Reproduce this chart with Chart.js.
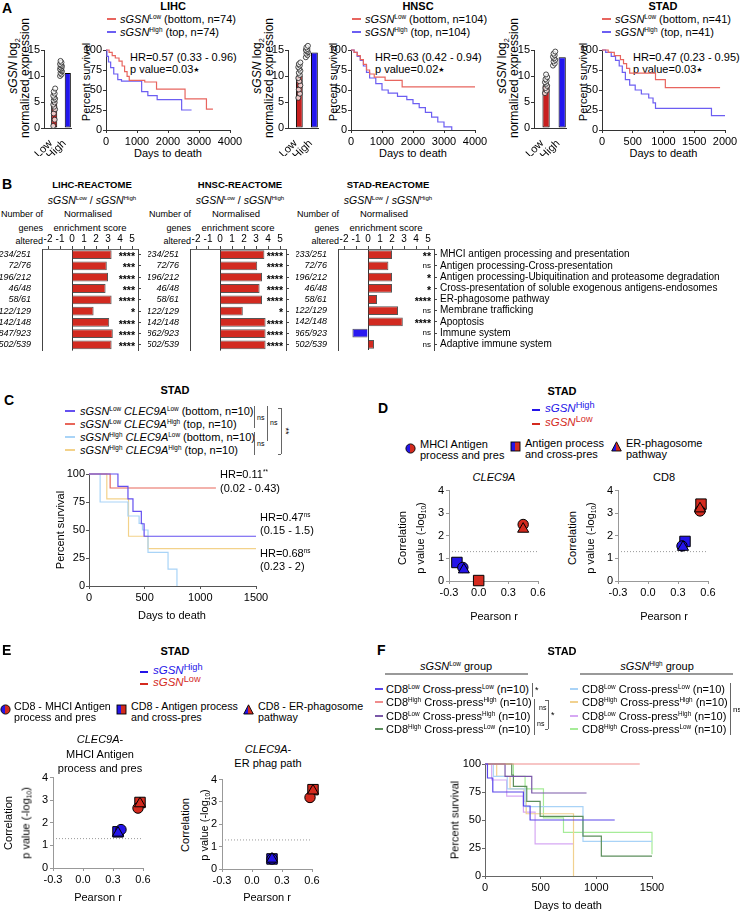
<!DOCTYPE html>
<html>
<head>
<meta charset="utf-8">
<script src="https://cdn.jsdelivr.net/npm/chart.js@4.4.1/dist/chart.umd.min.js"></script>
<style>
html, body { margin: 0; padding: 0; background: #fff; }
body { position: relative; width: 740px; height: 912px; overflow: hidden; font-family: "Liberation Sans", Arial, sans-serif; color: #000; }
canvas { position: absolute; }
.t { position: absolute; white-space: nowrap; line-height: 1; font-size: 11px; }
sup { font-size: 0.58em; vertical-align: 0; position: relative; top: -0.6em; font-style: normal; }
sup.big { font-size: 0.8em; top: -0.45em; }
sub { font-size: 0.6em; vertical-align: 0; position: relative; top: 0.35em; }
.st { font-size: 7px; position: relative; top: -1px; font-family: "DejaVu Sans"; }
.ln { position: absolute; }
</style>
</head>
<body>
<script>
// ---------- A: expression + survival ----------
const aNames = ['LIHC', 'HNSC', 'STAD'];
const aN = [74, 104, 41];
const aHR = ['0.57 (0.33 - 0.96)', '0.63 (0.42 - 0.94)', '0.47 (0.23 - 0.95)'];
const aP = ['0.03', '0.02', '0.03'];
const grpLabels = ['Low', 'High'];
const exprTicks = [0, 5, 10, 15];
const lihcMean = [5.2, 10.6];
const hnscMean = [10.1, 14.5];
const stadMean = [8.2, 13.6];
const lihcLowPts = [0.4, 1.6, 2.8, 3.6, 4.1, 4.5, 4.9, 5.3, 5.6, 5.9, 6.2, 6.6, 7.0, 7.6];
const lihcHighPts = [10.0, 10.3, 10.6, 10.9, 11.1, 11.3, 11.5, 11.7, 11.9, 12.1, 12.3, 12.6, 12.9];
const hnscLowPts = [5.8, 6.6, 7.4, 8.2, 9.0, 9.6, 10.2, 10.6, 11.0, 11.4, 11.7, 12.0, 12.3, 12.6];
const hnscHighPts = [13.6, 14.0, 14.3, 14.6, 14.8, 15.0, 15.2, 15.5, 15.8, 16.2];
const stadLowPts = [6.7, 7.2, 7.7, 8.1, 8.5, 8.8, 9.1, 9.4, 9.8, 10.3];
const stadHighPts = [12.0, 12.4, 12.8, 13.1, 13.4, 13.7, 14.0, 14.3, 14.7];

const pctTicks = [0, 25, 50, 75, 100];
const kmTicks4k = [0, 1000, 2000, 3000, 4000];
const kmTicks2k = [0, 500, 1000, 1500, 2000];
const kmTicks1500 = [0, 500, 1000, 1500];

const lihcLowT = [0, 100, 200, 300, 420, 520, 600, 680, 750, 1250, 1630, 2550, 3240, 3450];
const lihcLowS = [100, 97, 93, 90, 86, 80, 73, 67, 62, 60, 51, 39, 26, 26];
const lihcHighT = [0, 30, 80, 150, 250, 380, 500, 1150, 1350, 1650, 2440, 2760];
const lihcHighS = [100, 92, 85, 78, 70, 63, 61, 48, 43, 38, 25, 25];
const hnscLowT = [0, 100, 200, 300, 400, 500, 600, 750, 1100, 1650, 4000];
const hnscLowS = [100, 97, 93, 88, 82, 75, 70, 66, 62, 54, 54];
const hnscHighT = [0, 100, 200, 300, 400, 500, 600, 800, 1000, 1200, 1500, 1800, 2000, 2200, 2400, 2600, 2800, 3000, 3250];
const hnscHighS = [100, 97, 92, 87, 80, 72, 65, 58, 50, 46, 42, 38, 33, 28, 22, 16, 10, 4, 0];
const stadLowT = [0, 100, 200, 300, 350, 400, 450, 870, 1030, 1920];
const stadLowS = [100, 97, 93, 88, 83, 77, 71, 63, 53, 53];
const stadHighT = [0, 60, 150, 220, 280, 330, 380, 450, 540, 640, 760, 830, 870, 1780, 2000];
const stadHighS = [100, 97, 92, 87, 80, 72, 63, 56, 50, 45, 40, 34, 27, 18, 18];

// ---------- B: reactome NES ----------
const pathways = ['MHCI antigen processing and presentation', 'Antigen processing-Cross-presentation',
  'Antigen processing-Ubiquitination and proteasome degradation', 'Cross-presentation of soluble exogenous antigens-endosomes',
  'ER-phagosome pathway', 'Membrane trafficking', 'Apoptosis', 'Immune system', 'Adaptive immune system'];
const bTicks = [-2, -1, 0, 1, 2, 3, 4, 5];
const lihcGenes = ['234/251', '72/76', '196/212', '46/48', '58/61', '122/129', '142/148', '847/923', '502/539'];
const lihcNes = [3.3, 2.9, 3.0, 2.8, 3.3, 1.8, 3.1, 3.4, 3.3];
const lihcSig = ['****', '***', '****', '***', '****', '*', '****', '****', '****'];
const hnscGenes = ['234/251', '72/76', '196/212', '46/48', '58/61', '122/129', '142/148', '862/923', '502/539'];
const hnscNes = [3.7, 3.1, 3.5, 3.3, 3.5, 1.9, 3.8, 3.8, 3.8];
const hnscSig = ['****', '****', '****', '****', '****', '*', '****', '****', '****'];
const stadGenes = ['233/251', '72/76', '196/212', '46/48', '58/61', '122/129', '142/148', '865/923', '502/539'];
const stadNes = [2.0, 1.7, 2.0, 2.0, 0.75, 2.5, 2.9, -1.3, 0.5];
const stadSig = ['**', 'ns', '*', '*', '****', 'ns', '****', 'ns', 'ns'];

// ---------- C: STAD sGSN x CLEC9A ----------
const cLegend = [
  '<i>sGSN</i><sup>Low</sup> <i>CLEC9A</i><sup>Low</sup> (bottom, n=10)',
  '<i>sGSN</i><sup>Low</sup> <i>CLEC9A</i><sup>High</sup> (top, n=10)',
  '<i>sGSN</i><sup>High</sup> <i>CLEC9A</i><sup>Low</sup> (bottom, n=10)',
  '<i>sGSN</i><sup>High</sup> <i>CLEC9A</i><sup>High</sup> (top, n=10)'];
const cLowLowT = [0, 260, 350, 395, 470, 495, 1500];
const cLowLowS = [100, 88.9, 77.8, 66.7, 55.6, 44.4, 44.4];
const cLowHighT = [0, 190, 1140];
const cLowHighS = [100, 87.5, 87.5];
const cHighLowT = [0, 100, 350, 450, 480, 530, 710, 790];
const cHighLowS = [100, 75, 62.5, 56, 50, 30, 15, 0];
const cHighHighT = [0, 160, 355, 530, 1500];
const cHighHighS = [100, 77.8, 44.4, 33.3, 33.3];
const cHR = ['HR=0.11<sup>**</sup>', '(0.02 - 0.43)', 'HR=0.47<sup>ns</sup>', '(0.15 - 1.5)', 'HR=0.68<sup>ns</sup>', '(0.23 - 2)'];

// ---------- D / E: correlations (order: MHCI, cross-pres, ER-phagosome) ----------
const rTicks = [-0.3, 0, 0.3, 0.6];
const pTicks = [0, 1, 2, 3, 4];
const sigP = 1.3;
const dClecHighR = [-0.16, -0.22, -0.15], dClecHighP = [0.6, 0.82, 0.5];
const dClecLowR = [0.45, 0.0, 0.45], dClecLowP = [2.5, 0.02, 2.3];
const dCd8HighR = [0.34, 0.37, 0.35], dCd8HighP = [1.55, 1.75, 1.5];
const dCd8LowR = [0.52, 0.53, 0.52], dCd8LowP = [3.1, 3.4, 3.2];
const eMhcHighR = [0.38, 0.35, 0.35], eMhcHighP = [1.7, 1.6, 1.55];
const eMhcLowR = [0.55, 0.57, 0.57], eMhcLowP = [2.65, 2.9, 2.85];
const eErHighR = [0.2, 0.2, 0.2], eErHighP = [0.45, 0.45, 0.45];
const eErLowR = [0.58, 0.61, 0.61], eErLowP = [3.2, 3.55, 3.5];

// ---------- F: CD8 x cross-presentation ----------
const fLegend = [
  'CD8<sup>Low</sup> Cross-press<sup>Low</sup> (n=10)',
  'CD8<sup>High</sup> Cross-press<sup>High</sup> (n=10)',
  'CD8<sup>Low</sup> Cross-press<sup>High</sup> (n=10)',
  'CD8<sup>High</sup> Cross-press<sup>Low</sup> (n=10)'];
const fLowLLT = [0, 22, 70, 345, 405, 1165], fLowLLS = [100, 87.5, 75, 62.5, 50, 50];
const fLowHHT = [0, 1390], fLowHHS = [100, 100];
const fLowLHT = [0, 180, 420, 912], fLowLHS = [100, 88.9, 74.1, 74.1];
const fLowHLT = [0, 240, 255, 375, 495, 880, 1045, 1500], fLowHLS = [100, 90, 80, 66.7, 53.3, 35.6, 17.8, 17.8];
const fHighLLT = [0, 75, 200, 360, 880, 1500], fHighLLS = [100, 88.9, 77.8, 61.9, 30.9, 30.9];
const fHighHHT = [0, 105, 225, 350, 370, 795, 795], fHighHHS = [100, 88.9, 77.8, 66.7, 55.6, 55.6, 0];
const fHighLHT = [0, 60, 195, 345, 450, 795], fHighLHS = [100, 85.7, 71.4, 57.1, 28.6, 28.6];
const fHighHLT = [0, 255, 360, 525, 705, 1500, 1500], fHighHLS = [100, 88.9, 77.8, 51.9, 38.9, 38.9, 19.4];

// ---------- colours ----------
const kmRed = '#e8655f', kmBlue = '#6c5ef2';
const barRed = '#c81f1f', barBlue = '#2216ee';
const nesRed = '#d22a20', nesBlue = '#2a1af0';
const dRed = '#d42a1e', dBlue = '#2414e8';
const cCols = ['#6450f0', '#e8665a', '#a9d4f7', '#f3d28a'];
const fCols = ['#5a46ea', '#f08c8c', '#7a58a8', '#5d8f5d', '#a9d3f7', '#f1d18f', '#d6a8f3', '#a6ec98'];

Chart.defaults.font.family = '"Liberation Sans", Arial, sans-serif';
Chart.defaults.font.size = 11;
Chart.defaults.color = '#000';
Chart.defaults.plugins.legend.display = false;
Chart.defaults.plugins.tooltip.enabled = false;

// ---------- helpers ----------
function T(x, y, html, o) {
  o = o || {};
  const d = document.createElement('div');
  d.className = 't';
  d.innerHTML = html;
  d.style.left = x + 'px';
  d.style.top = y + 'px';
  if (o.s) d.style.fontSize = o.s + 'px';
  if (o.b) d.style.fontWeight = 'bold';
  if (o.c) d.style.color = o.c;
  const ax = o.a === 'c' ? '-50%' : o.a === 'r' ? '-100%' : '0';
  d.style.transform = o.rot ? 'translate(-50%,-50%) rotate(' + o.rot + 'deg)' : 'translate(' + ax + ',-50%)';
  document.body.appendChild(d);
}
function seg(x0, y0, x1, y1, col, w) {
  const d = document.createElement('div');
  d.className = 'ln';
  w = w || 1;
  d.style.left = Math.min(x0, x1) + 'px';
  d.style.top = (Math.min(y0, y1) - (y0 === y1 ? w / 2 : 0)) + 'px';
  d.style.width = Math.max(Math.abs(x1 - x0), w) + 'px';
  d.style.height = Math.max(Math.abs(y1 - y0), w) + 'px';
  d.style.background = col;
  document.body.appendChild(d);
}
let gid = 0;
function shape(kind, x, y) {
  const id = 'g' + (gid++);
  const body = kind === 'c' ? '<circle cx="5.5" cy="5.5" r="4.6"' :
    kind === 's' ? '<rect x="1" y="1" width="9" height="9"' : '<polygon points="5.5,0.8 10.3,10 0.7,10"';
  const d = document.createElement('div');
  d.className = 'ln';
  d.style.left = (x - 5.5) + 'px';
  d.style.top = (y - 5.5) + 'px';
  d.innerHTML = '<svg width="11" height="11"><defs><linearGradient id="' + id + '" x1="0" x2="1" y1="0" y2="0">' +
    '<stop offset="0.5" stop-color="' + dBlue + '"/><stop offset="0.5" stop-color="' + dRed + '"/></linearGradient></defs>' +
    body + ' fill="url(#' + id + ')" stroke="#000" stroke-width="0.9"/></svg>';
  document.body.appendChild(d);
}
const fit = n => s => { if (s.isHorizontal()) s.height = n; else s.width = n; };
function lin(o) {
  return {
    type: 'linear', min: o.min, max: o.max, position: o.pos,
    afterBuildTicks: s => { s.ticks = o.ticks.map(v => ({ value: v })); },
    ticks: { autoSkip: false, maxRotation: 0, padding: o.pad === undefined ? 2 : o.pad, font: { size: o.fs || 11 }, color: '#000', callback: o.fmt || (v => String(v)) },
    grid: { display: true, drawOnChartArea: false, drawTicks: true, tickLength: o.tl || 3, tickColor: o.col || '#000', color: o.col || '#000' },
    border: { display: true, color: o.col || '#000', width: 1 },
    afterFit: fit(o.size)
  };
}
function mk(area, m, cfg, pad, plugins) {
  const [x0, y0, x1, y1] = area, [l, t, r, b] = m;
  const w = x1 - x0 + l + r, h = y1 - y0 + t + b;
  const c = document.createElement('canvas');
  c.width = w; c.height = h;
  c.style.left = (x0 - l) + 'px'; c.style.top = (y0 - t) + 'px';
  c.style.width = w + 'px'; c.style.height = h + 'px';
  document.body.appendChild(c);
  cfg.options = Object.assign({ responsive: false, animation: false, devicePixelRatio: 1, events: [] }, cfg.options);
  cfg.options.layout = { padding: pad || { top: t, right: r, left: 0, bottom: 0 } };
  if (plugins) cfg.plugins = plugins;
  return new Chart(c, cfg);
}
function km(area, xTicks, curves, col) {
  const m = [28, 8, 16, 24];
  mk(area, m, {
    type: 'line',
    data: { datasets: curves.map(c => ({ data: c[0].map((t, i) => ({ x: t, y: c[1][i] })), borderColor: c[2], borderWidth: 1.2, pointRadius: 0, stepped: true, fill: false, clip: false })) },
    options: { scales: {
      x: lin({ min: 0, max: xTicks[xTicks.length - 1], ticks: xTicks, pos: 'bottom', size: m[3], col: col }),
      y: lin({ min: 0, max: 100, ticks: pctTicks, pos: 'left', size: m[0], pad: 1, col: col })
    } }
  });
}
function barA(area, means, lowPts, highPts) {
  const m = [28, 8, 4, 28];
  // small horizontal spread so overlapping points stay visible
  const jit = (arr, c) => arr.map((v, i) => ({ x: c + (((i * 3) % 5) - 2) * 0.07, y: v }));
  const pt = { type: 'scatter', xAxisID: 'xj', pointRadius: 2.5, backgroundColor: 'rgba(255,255,255,0.75)', borderColor: '#222', borderWidth: 0.8, clip: false };
  mk(area, m, {
    type: 'bar',
    data: { labels: grpLabels, datasets: [
      Object.assign({ data: jit(lowPts, 0) }, pt),
      Object.assign({ data: jit(highPts, 1) }, pt),
      { data: means, backgroundColor: [barRed, barBlue], borderColor: '#000', borderWidth: 1, borderSkipped: false, barPercentage: 0.9, categoryPercentage: 1 }
    ] },
    options: { scales: {
      x: { type: 'category', offset: true, ticks: { minRotation: 45, maxRotation: 45, autoSkip: false, padding: 1, font: { size: 11 } }, grid: { display: false }, border: { display: true, color: '#333' }, afterFit: fit(m[3]) },
      xj: { type: 'linear', min: -0.5, max: 1.5, display: false },
      y: lin({ min: 0, max: 15, ticks: exprTicks, pos: 'left', size: m[0], pad: 1, col: '#333' })
    } }
  });
}
function sigPlugin(labels) {
  return {
    id: 'sig',
    afterDatasetsDraw(chart) {
      const ctx = chart.ctx, ys = chart.scales.y, right = chart.chartArea.right;
      ctx.save();
      ctx.fillStyle = '#000'; ctx.textAlign = 'right'; ctx.textBaseline = 'middle';
      labels.forEach((s, i) => {
        const ns = s === 'ns';
        ctx.font = (ns ? '8px' : 'bold 10.5px') + ' "Liberation Sans", Arial';
        ctx.fillText(s, right - 3, ys.getPixelForValue(i) + (ns ? 0 : 2.5));
      });
      ctx.restore();
    }
  };
}
function nes(x0, genes, vals, sig, showPath) {
  const r = showPath ? 306 : 8;
  mk([x0, 249, x0 + 96, 357], [42, 18, r, 2], {
    type: 'bar',
    data: { labels: genes, datasets: [{ data: vals, backgroundColor: vals.map(v => v < 0 ? nesBlue : nesRed), borderColor: '#555', borderWidth: 1, barPercentage: 0.78, categoryPercentage: 1 }] },
    options: { indexAxis: 'y', scales: {
      x: { type: 'linear', position: 'top', min: -2.5, max: 5.5,
        afterBuildTicks: s => { s.ticks = bTicks.map(v => ({ value: v })); },
        ticks: { autoSkip: false, maxRotation: 0, padding: 1, font: { size: 10 }, color: '#000', callback: v => String(v) },
        grid: { display: true, drawOnChartArea: true, drawTicks: true, tickLength: 3, tickColor: '#444', color: c => (c.tick && c.tick.value === 0) ? '#333' : 'rgba(0,0,0,0)' },
        border: { display: true, color: '#666' }, afterFit: fit(18) },
      y: { type: 'category', position: 'left', offset: true, ticks: { autoSkip: false, font: { size: 9, style: 'italic' }, padding: 3, color: '#000' }, grid: { display: false }, border: { display: true, color: '#444' }, afterFit: fit(42) },
      y2: { type: 'category', position: 'right', labels: pathways, offset: true, ticks: { autoSkip: false, display: showPath, font: { size: 10 }, padding: 3, color: '#000' },
        grid: { display: true, offset: false, drawOnChartArea: false, drawTicks: true, tickLength: 3, tickColor: '#444' }, border: { display: true, color: '#444' }, afterFit: fit(r) }
    } }
  }, { top: 0, right: 0, left: 0, bottom: 2 }, [sigPlugin(sig)]);
}
function corr(area, hiR, hiP, loR, loP) {
  const m = [22, 8, 14, 22];
  const sh = ['circle', 'rect', 'triangle'], rad = [5.2, 7.4, 6.4];
  const ds = [];
  [2, 0, 1].forEach(j => {
    ds.push({ data: [{ x: hiR[j], y: hiP[j] }], pointStyle: sh[j], pointRadius: rad[j], backgroundColor: dBlue, borderColor: '#000', borderWidth: 1, clip: false });
    ds.push({ data: [{ x: loR[j], y: loP[j] }], pointStyle: sh[j], pointRadius: rad[j], backgroundColor: dRed, borderColor: '#000', borderWidth: 1, clip: false });
  });
  ds.push({ type: 'line', data: [{ x: rTicks[0], y: sigP }, { x: rTicks[rTicks.length - 1], y: sigP }], borderColor: '#999', borderWidth: 1, borderDash: [1, 2], pointRadius: 0 });
  mk(area, m, {
    type: 'scatter',
    data: { datasets: ds },
    options: { scales: {
      x: lin({ min: rTicks[0], max: rTicks[rTicks.length - 1], ticks: rTicks, pos: 'bottom', size: m[3], col: '#999', fmt: v => v.toFixed(1) }),
      y: lin({ min: 0, max: 4, ticks: pTicks, pos: 'left', size: m[0], col: '#999' })
    } }
  });
}

// ---------- panel A ----------
const aLay = [
  { bar: [44, 50, 72, 128], km: [106, 50, 230, 130], title: 173, leg: 107, hr: 130, yt: [13, 25], ps: 86 },
  { bar: [288, 50, 319, 128], km: [351, 50, 475, 130], title: 418, leg: 352, hr: 375, yt: [257, 269], ps: 333 },
  { bar: [534, 50, 567, 128], km: [602, 50, 725, 130], title: 663, leg: 602, hr: 633, yt: [502, 514], ps: 583 }];
const aMeans = [lihcMean, hnscMean, stadMean];
const aLow = [lihcLowPts, hnscLowPts, stadLowPts];
const aHigh = [lihcHighPts, hnscHighPts, stadHighPts];
const aKM = [
  [[lihcLowT, lihcLowS, kmRed], [lihcHighT, lihcHighS, kmBlue]],
  [[hnscLowT, hnscLowS, kmRed], [hnscHighT, hnscHighS, kmBlue]],
  [[stadLowT, stadLowS, kmRed], [stadHighT, stadHighS, kmBlue]]];
const aXT = [kmTicks4k, kmTicks4k, kmTicks2k];

T(2, 8, 'A', { b: 1, s: 14 });
aLay.forEach((L, k) => {
  T(L.title, 6, aNames[k], { b: 1, a: 'c' });
  seg(L.leg, 19, L.leg + 9, 19, kmRed, 1.3);
  T(L.leg + 13, 19, '<i>sGSN</i><sup>Low</sup> (bottom, n=' + aN[k] + ')');
  seg(L.leg, 32, L.leg + 9, 32, kmBlue, 1.3);
  T(L.leg + 13, 32, '<i>sGSN</i><sup>High</sup> (top, n=' + aN[k] + ')');
  T(L.hr, 57, 'HR=' + aHR[k]);
  T(L.hr, 69, 'p value=' + aP[k] + '<span class="st">★</span>');
  T(L.yt[0], 66, '<i>sGSN</i> log<sub>2</sub>', { rot: -90, s: 12 });
  T(L.yt[1], 78, 'normalized expression', { rot: -90, s: 12 });
  T(L.ps, 82, 'Percent survival', { rot: -90 });
  T((L.km[0] + L.km[2]) / 2, 153, 'Days to death', { a: 'c' });
  barA(L.bar, aMeans[k], aLow[k], aHigh[k]);
  km(L.km, aXT[k], aKM[k], '#333');
});

// ---------- panel B ----------
T(2, 184, 'B', { b: 1, s: 14 });
const bNames = ['LIHC-REACTOME', 'HNSC-REACTOME', 'STAD-REACTOME'];
const bData = [[lihcGenes, lihcNes, lihcSig], [hnscGenes, hnscNes, hnscSig], [stadGenes, stadNes, stadSig]];
[42, 190, 338].forEach((x0, k) => {
  const cx = x0 + 48;
  T(cx + 2, 185, bNames[k], { b: 1, a: 'c', s: 9.5 });
  T(cx + 2, 200, '<i>sGSN</i><sup>Low</sup> / <i>sGSN</i><sup>High</sup>', { a: 'c', s: 10.5 });
  T(x0 + 1, 214, 'Number of', { a: 'r', s: 9 });
  T(cx - 2, 214, 'Normalised', { a: 'c', s: 9.5 });
  T(x0 + 1, 228, 'genes', { a: 'r', s: 9 });
  T(cx, 228, 'enrichment score', { a: 'c', s: 9.5 });
  T(x0 + 1, 241, 'altered', { a: 'r', s: 9 });
  nes(x0, bData[k][0], bData[k][1], bData[k][2], k === 2);
});

// ---------- panel C ----------
T(4, 400, 'C', { b: 1, s: 14 });
T(175, 390, 'STAD', { b: 1, a: 'c' });
const cLegY = [411, 424, 437, 450];
cLegend.forEach((h, i) => { seg(65, cLegY[i], 75, cLegY[i], cCols[i], 1.3); T(80, cLegY[i], h); });
seg(254, 406, 254, 428, '#666'); T(257, 417, 'ns', { s: 7 });
seg(254, 432, 254, 455, '#666'); T(257, 443, 'ns', { s: 7 });
seg(267, 406, 267, 441, '#666'); T(270, 422, 'ns', { s: 7 });
seg(281, 408, 281, 454, '#666'); seg(278, 408, 281, 408, '#666'); seg(278, 454, 281, 454, '#666');
T(285, 431, '**', { rot: 90, s: 9 });
km([89, 474, 256, 586], kmTicks1500, [
  [cLowLowT, cLowLowS, cCols[0]], [cLowHighT, cLowHighS, cCols[1]],
  [cHighLowT, cHighLowS, cCols[2]], [cHighHighT, cHighHighS, cCols[3]]], '#555');
const cHRpos = [[220, 474], [220, 488], [260, 517], [260, 530], [260, 553], [260, 566]];
cHR.forEach((h, i) => T(cHRpos[i][0], cHRpos[i][1], h));
T(60, 530, 'Percent survival', { rot: -90 });
T(172, 615, 'Days to death', { a: 'c' });

// ---------- panel D ----------
T(378, 408, 'D', { b: 1, s: 14 });
T(562, 391, 'STAD', { b: 1, a: 'c' });
seg(532, 410, 540, 410, dBlue, 1.2); T(545, 409, '<i>sGSN</i><sup class="big">High</sup>', { c: dBlue, s: 11.5 });
seg(532, 424, 540, 424, dRed, 1.2); T(545, 423, '<i>sGSN</i><sup class="big">Low</sup>', { c: dRed, s: 11.5 });
shape('c', 410, 445); T(420, 444, 'MHCI Antigen'); T(420, 455, 'process and pres');
shape('s', 515, 443); T(525, 443, 'Antigen process'); T(525, 454, 'and cross-pres');
shape('t', 616, 443); T(626, 443, 'ER-phagosome'); T(626, 454, 'pathway');
T(494, 477, '<i>CLEC9A</i>', { a: 'c' });
T(664, 477, 'CD8', { a: 'c' });
corr([449, 490, 538, 581], dClecHighR, dClecHighP, dClecLowR, dClecLowP);
corr([618, 490, 708, 581], dCd8HighR, dCd8HighP, dCd8LowR, dCd8LowP);
[[402, 420], [572, 590]].forEach(p => {
  T(p[0], 538, 'Correlation', { rot: -90 });
  T(p[1], 538, 'p value (-log<sub>10</sub>)', { rot: -90 });
});
T(494, 616, 'Pearson r', { a: 'c' });
T(664, 616, 'Pearson r', { a: 'c' });

// ---------- panel E ----------
T(2, 650, 'E', { b: 1, s: 14 });
T(175, 651, 'STAD', { b: 1, a: 'c' });
seg(140, 672, 148, 672, dBlue, 1.2); T(153, 671, '<i>sGSN</i><sup class="big">High</sup>', { c: dBlue, s: 11.5 });
seg(140, 684, 148, 684, dRed, 1.2); T(153, 683, '<i>sGSN</i><sup class="big">Low</sup>', { c: dRed, s: 11.5 });
shape('c', 5, 706); T(14, 706, 'CD8 - MHCI Antigen', { s: 10.7 }); T(14, 717, 'process and pres', { s: 10.7 });
shape('s', 121, 706); T(131, 706, 'CD8 - Antigen process', { s: 10.7 }); T(131, 717, 'and cross-pres', { s: 10.7 });
shape('t', 248, 706); T(258, 706, 'CD8 - ER-phagosome', { s: 10.7 }); T(258, 717, 'pathway', { s: 10.7 });
T(100, 739, '<i>CLEC9A</i>-', { a: 'c' }); T(100, 754, 'MHCI Antigen', { a: 'c' }); T(100, 768, 'process and pres', { a: 'c' });
T(268, 749, '<i>CLEC9A</i>-', { a: 'c' }); T(268, 763, 'ER phag path', { a: 'c' });
corr([53, 777, 143, 868], eMhcHighR, eMhcHighP, eMhcLowR, eMhcLowP);
corr([222, 779, 312, 869], eErHighR, eErHighP, eErLowR, eErLowP);
[[8, 26, 823], [185, 204, 825]].forEach(p => {
  T(p[0], p[2], 'Correlation', { rot: -90 });
  T(p[1], p[2], 'p value (-log<sub>10</sub>)', { rot: -90 });
});
T(98, 897, 'Pearson r', { a: 'c' });
T(267, 897, 'Pearson r', { a: 'c' });

// ---------- panel F ----------
T(377, 650, 'F', { b: 1, s: 14 });
T(562, 651, 'STAD', { b: 1, a: 'c' });
T(456, 666, '<i>sGSN</i><sup>Low</sup> group', { a: 'c' }); seg(385, 674, 528, 674, '#999', 1.5);
T(657, 666, '<i>sGSN</i><sup>High</sup> group', { a: 'c' }); seg(580, 674, 733, 674, '#999', 1.5);
const fLegY = [689, 702, 716, 729];
fLegend.forEach((h, i) => {
  seg(375, fLegY[i], 383, fLegY[i], fCols[i], 1.3); T(386, fLegY[i], h);
  seg(570, fLegY[i], 578, fLegY[i], fCols[i + 4], 1.3); T(582, fLegY[i], h);
});
seg(532, 683, 532, 697, '#666'); T(535, 690, '*', { s: 9 });
seg(534, 699, 534, 735, '#666'); T(537, 723, 'ns', { s: 7 });
seg(548, 700, 548, 729, '#666'); seg(545, 700, 548, 700, '#666'); seg(545, 729, 548, 729, '#666');
T(539, 707, 'ns', { s: 7 }); T(551, 715, '*', { s: 9 });
seg(730, 683, 730, 735, '#666'); T(733, 710, 'ns', { s: 8 });
km([485, 764, 652, 876], kmTicks1500, [
  [fLowLLT, fLowLLS, fCols[0]], [fLowHHT, fLowHHS, fCols[1]], [fLowLHT, fLowLHS, fCols[2]], [fLowHLT, fLowHLS, fCols[3]],
  [fHighLLT, fHighLLS, fCols[4]], [fHighHHT, fHighHHS, fCols[5]], [fHighLHT, fHighLHS, fCols[6]], [fHighHLT, fHighHLS, fCols[7]]], '#666');
T(455, 820, 'Percent survival', { rot: -90 });
T(568, 905, 'Days to death', { a: 'c' });
</script>
</body>
</html>
